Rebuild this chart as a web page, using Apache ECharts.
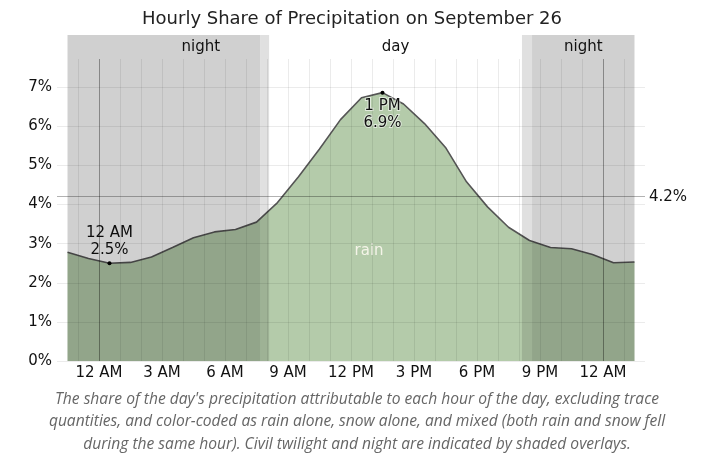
<!DOCTYPE html>
<html lang="en">
<head>
  <meta charset="UTF-8">
  <title>Hourly Share of Precipitation</title>
  <script src="https://cdn.jsdelivr.net/npm/echarts@6/dist/echarts.min.js"></script>
  <style>
    html, body { margin: 0; padding: 0; background: #fff; }
    #chart { width: 704px; height: 460px; }
  </style>
</head>
<body>
  <div id="chart"></div>

  <script>
    // hours run from 10 PM the evening before to 1 AM the morning after
    var hours = [-2, -1, 0, 1, 2, 3, 4, 5, 6, 7, 8, 9, 10, 11, 12, 13, 14, 15, 16, 17, 18, 19, 20, 21, 22, 23, 24, 25]
    // share of the day's precipitation (%) for each hour
    var shares = [2.78, 2.62, 2.50, 2.52, 2.66, 2.90, 3.15, 3.30, 3.36, 3.55, 4.05, 4.71, 5.42, 6.17, 6.73, 6.86,
                  6.57, 6.07, 5.46, 4.58, 3.94, 3.42, 3.08, 2.90, 2.87, 2.72, 2.51, 2.53]
    var avgShare = 4.2
    var labelledHours = [0, 13]
    var tickHours = [0, 3, 6, 9, 12, 15, 18, 21, 24]

    // night / twilight / day spans (hours)
    var nightSpans = [[-1.5, 7.67], [20.62, 25.5]]
    var twilightSpans = [[7.67, 8.1], [20.14, 20.62]]
    var daySpan = [8.1, 20.14]

    var caption = "The share of the day's precipitation attributable to each hour of the day, excluding trace\n" +
      "quantities, and color-coded as rain alone, snow alone, and mixed (both rain and snow fell\n" +
      "during the same hour). Civil twilight and night are indicated by shaded overlays."

    var FONT = 'DejaVu Sans'
    var NIGHT = 'rgba(0,0,0,0.185)'
    var TWILIGHT = 'rgba(0,0,0,0.12)'

    function hourName(h) {
      var hh = ((h % 24) + 24) % 24
      var suffix = hh < 12 ? 'AM' : 'PM'
      var n = hh % 12 === 0 ? 12 : hh % 12
      return n + ' ' + suffix
    }

    var peak = Math.max.apply(null, shares)
    var lineData = hours.map(function (h, i) {
      var item = { value: [h + 0.5, shares[i]] }
      if (labelledHours.indexOf(h) >= 0) {
        item.symbol = 'circle'
        item.symbolSize = 4
        item.itemStyle = { color: '#000' }
        item.label = {
          show: true,
          position: shares[i] === peak ? 'bottom' : 'top',
          distance: 3,
          formatter: hourName(h) + '\n' + shares[i].toFixed(1) + '%',
          color: '#111',
          fontFamily: FONT,
          fontSize: 15,
          lineHeight: 17,
          textBorderColor: 'rgba(255,255,255,0.6)',
          textBorderWidth: 2
        }
      }
      return item
    })

    var overlayData = []
    nightSpans.forEach(function (s) {
      overlayData.push([{ xAxis: s[0], itemStyle: { color: NIGHT } }, { xAxis: s[1] }])
    })
    twilightSpans.forEach(function (s) {
      overlayData.push([{ xAxis: s[0], itemStyle: { color: TWILIGHT } }, { xAxis: s[1] }])
    })

    var bandLabel = { show: true, position: 'inside', color: '#111', fontFamily: FONT, fontSize: 15 }
    var bandData = [
      [{ xAxis: nightSpans[0][0], itemStyle: { color: NIGHT },
         label: Object.assign({}, bandLabel, { formatter: 'night', offset: [37, 0] }) }, { xAxis: nightSpans[0][1] }],
      [{ xAxis: nightSpans[1][0], itemStyle: { color: NIGHT },
         label: Object.assign({}, bandLabel, { formatter: 'night' }) }, { xAxis: nightSpans[1][1] }],
      [{ xAxis: twilightSpans[0][0], itemStyle: { color: TWILIGHT } }, { xAxis: twilightSpans[0][1] }],
      [{ xAxis: twilightSpans[1][0], itemStyle: { color: TWILIGHT } }, { xAxis: twilightSpans[1][1] }],
      [{ xAxis: daySpan[0], itemStyle: { color: 'rgba(0,0,0,0)' },
         label: Object.assign({}, bandLabel, { formatter: 'day' }) }, { xAxis: daySpan[1] }]
    ]

    var chart = echarts.init(document.getElementById('chart'))
    var gridColor = 'rgba(0,0,0,0.08)'
    var clear = 'rgba(0,0,0,0)'

    // vertical grid: hide the lines at the two outer edges (-2 and 26)
    var xGridColors = []
    for (var k = -2; k <= 26; k++) xGridColors.push(k === -2 || k === 26 ? clear : gridColor)

    var option = {
      animation: false,
      title: [
        {
          text: 'Hourly Share of Precipitation on September 26',
          left: 'center',
          top: 5,
          textStyle: { fontFamily: FONT, fontSize: 18, fontWeight: 'normal', color: '#222' }
        },
        {
          text: caption,
          left: 352,
          top: 383,
          textAlign: 'center',
          textStyle: { fontFamily: 'Open Sans', fontStyle: 'italic', fontSize: 15.6, fontWeight: 'normal',
                       color: '#666', lineHeight: 22.5 }
        }
      ],
      grid: [
        { left: 57, right: 59, top: 59, bottom: 99 },
        { left: 57, right: 59, top: 35, height: 24 }
      ],
      xAxis: [
        {
          type: 'value', gridIndex: 0, min: -2, max: 26, interval: 1, z: 6,
          axisLine: { show: false }, axisTick: { show: false },
          splitLine: { show: true, lineStyle: { color: xGridColors } },
          axisLabel: {
            margin: 5, color: '#111', fontFamily: FONT, fontSize: 15,
            formatter: function (v) { return tickHours.indexOf(v) >= 0 ? hourName(v) : '' }
          }
        },
        { type: 'value', gridIndex: 1, min: -2, max: 26, show: false }
      ],
      yAxis: [
        {
          type: 'value', gridIndex: 0, min: 0, max: 7.72, interval: 1, z: 6,
          axisLine: { show: false }, axisTick: { show: false },
          splitLine: { show: true, lineStyle: { color: [gridColor, gridColor, gridColor, gridColor, gridColor,
                                                         gridColor, gridColor, gridColor, clear] } },
          axisLabel: {
            margin: 5, color: '#111', fontFamily: FONT, fontSize: 15,
            formatter: function (v) { return Number.isInteger(v) ? v + '%' : '' }
          }
        },
        { type: 'value', gridIndex: 1, min: 0, max: 1, show: false }
      ],
      series: [
        {
          name: 'rain',
          type: 'line',
          z: 2,
          xAxisIndex: 0, yAxisIndex: 0,
          data: lineData,
          symbol: 'none',
          showSymbol: true,
          lineStyle: { color: '#555', width: 1.6 },
          areaStyle: { color: '#b4cbaa', opacity: 1 }
        },
        {
          // night and twilight overlays drawn above the area
          type: 'line',
          z: 4,
          xAxisIndex: 0, yAxisIndex: 0,
          data: [[-2, 0]],
          symbol: 'none',
          lineStyle: { opacity: 0 },
          markArea: { silent: true, z: 4, data: overlayData },
          markLine: {
            silent: true, symbol: 'none', z: 5,
            data: [
              { yAxis: avgShare, lineStyle: { color: 'rgba(0,0,0,0.3)', type: 'solid', width: 1 },
                label: { show: true, position: 'end', distance: 4, formatter: avgShare.toFixed(1) + '%',
                         color: '#111', fontFamily: FONT, fontSize: 15 } },
              { xAxis: 0, lineStyle: { color: 'rgba(0,0,0,0.3)', type: 'solid', width: 1 }, label: { show: false } },
              { xAxis: 24, lineStyle: { color: 'rgba(0,0,0,0.3)', type: 'solid', width: 1 }, label: { show: false } }
            ]
          },
          markPoint: {
            silent: true, symbol: 'circle', symbolSize: 0, z: 5,
            data: [{ coord: [12.86, 2.81], label: { show: true, position: 'inside', formatter: 'rain',
                     color: '#f4f4e8', fontFamily: FONT, fontSize: 15 } }]
          }
        },
        {
          type: 'line',
          xAxisIndex: 1, yAxisIndex: 1,
          data: [[-2, 0]],
          symbol: 'none',
          lineStyle: { opacity: 0 },
          markArea: { silent: true, data: bandData }
        }
      ]
    }
    chart.setOption(option)
  </script>
</body>
</html>
